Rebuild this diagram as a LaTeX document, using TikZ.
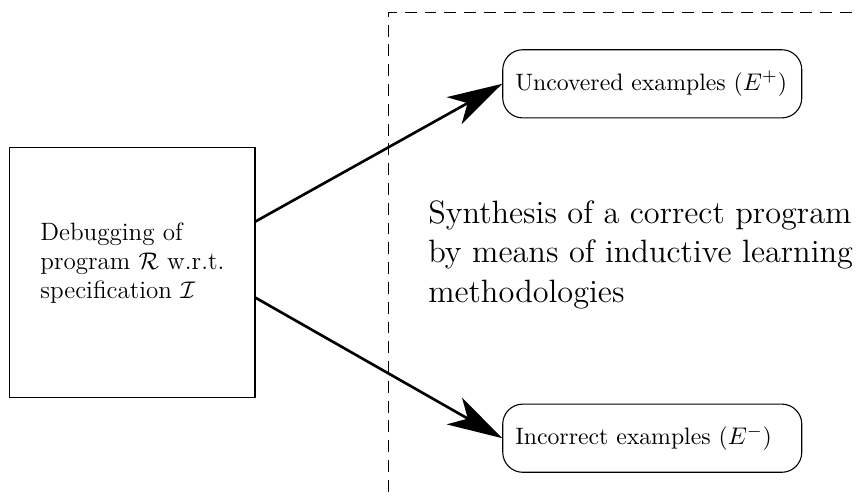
\documentclass[tikz,border=0pt]{standalone}
\usetikzlibrary{arrows.meta}
\begin{document}
\begin{tikzpicture}
\def\boxw{4.78cm}
\def\boxh{1.09cm}
\tikzset{base/.style={draw,line width=0.5pt},
dbgbox/.style={base,minimum width=3.92cm,minimum height=4.0cm},
exbox/.style={base,rounded corners=0.32cm,minimum width=\boxw,minimum height=\boxh,
  inner xsep=0.2cm,inner ysep=0.2cm,text width=4.38cm,align=left,font=\fontsize{10.8}{12.5}\selectfont},
arr/.style={line width=1.2pt,-{Stealth[length=25pt,width=14pt,inset=7pt]}},
sep/.style={dashed,dash pattern=on 5.4pt off 3.6pt,line width=0.5pt}}
\path[use as bounding box] (0,0) rectangle (13.70,8.02);
\node[dbgbox] at (2.117,3.66) (DBG) {};
\node[anchor=west,align=left,inner sep=0pt,font=\fontsize{11.4}{13.2}\selectfont] at (0.639,3.82) (DBGT) {Debugging of\\ program $\mathcal{R}$ w.r.t.\\ specification $\mathcal{I}$};
\node[exbox] at (10.427,6.68) (UNC) {Uncovered examples ($E^{+}$)};
\node[exbox] at (10.427,1.015) (INC) {Incorrect examples ($E^{-}$)};
\node[anchor=west,align=left,inner sep=0pt,font=\fontsize{14.7}{18}\selectfont] at (6.839,3.95) (SYN) {Synthesis of a correct program\\ by means of inductive learning\\ methodologies};
\draw[arr] ([yshift=0.82cm]DBG.east) -- (UNC.west);
\draw[arr] ([yshift=-0.4cm]DBG.east) -- (INC.west);
\draw[sep] (6.216,0.16) -- (6.216,7.814) -- (13.70,7.814);
\end{tikzpicture}
\end{document}
